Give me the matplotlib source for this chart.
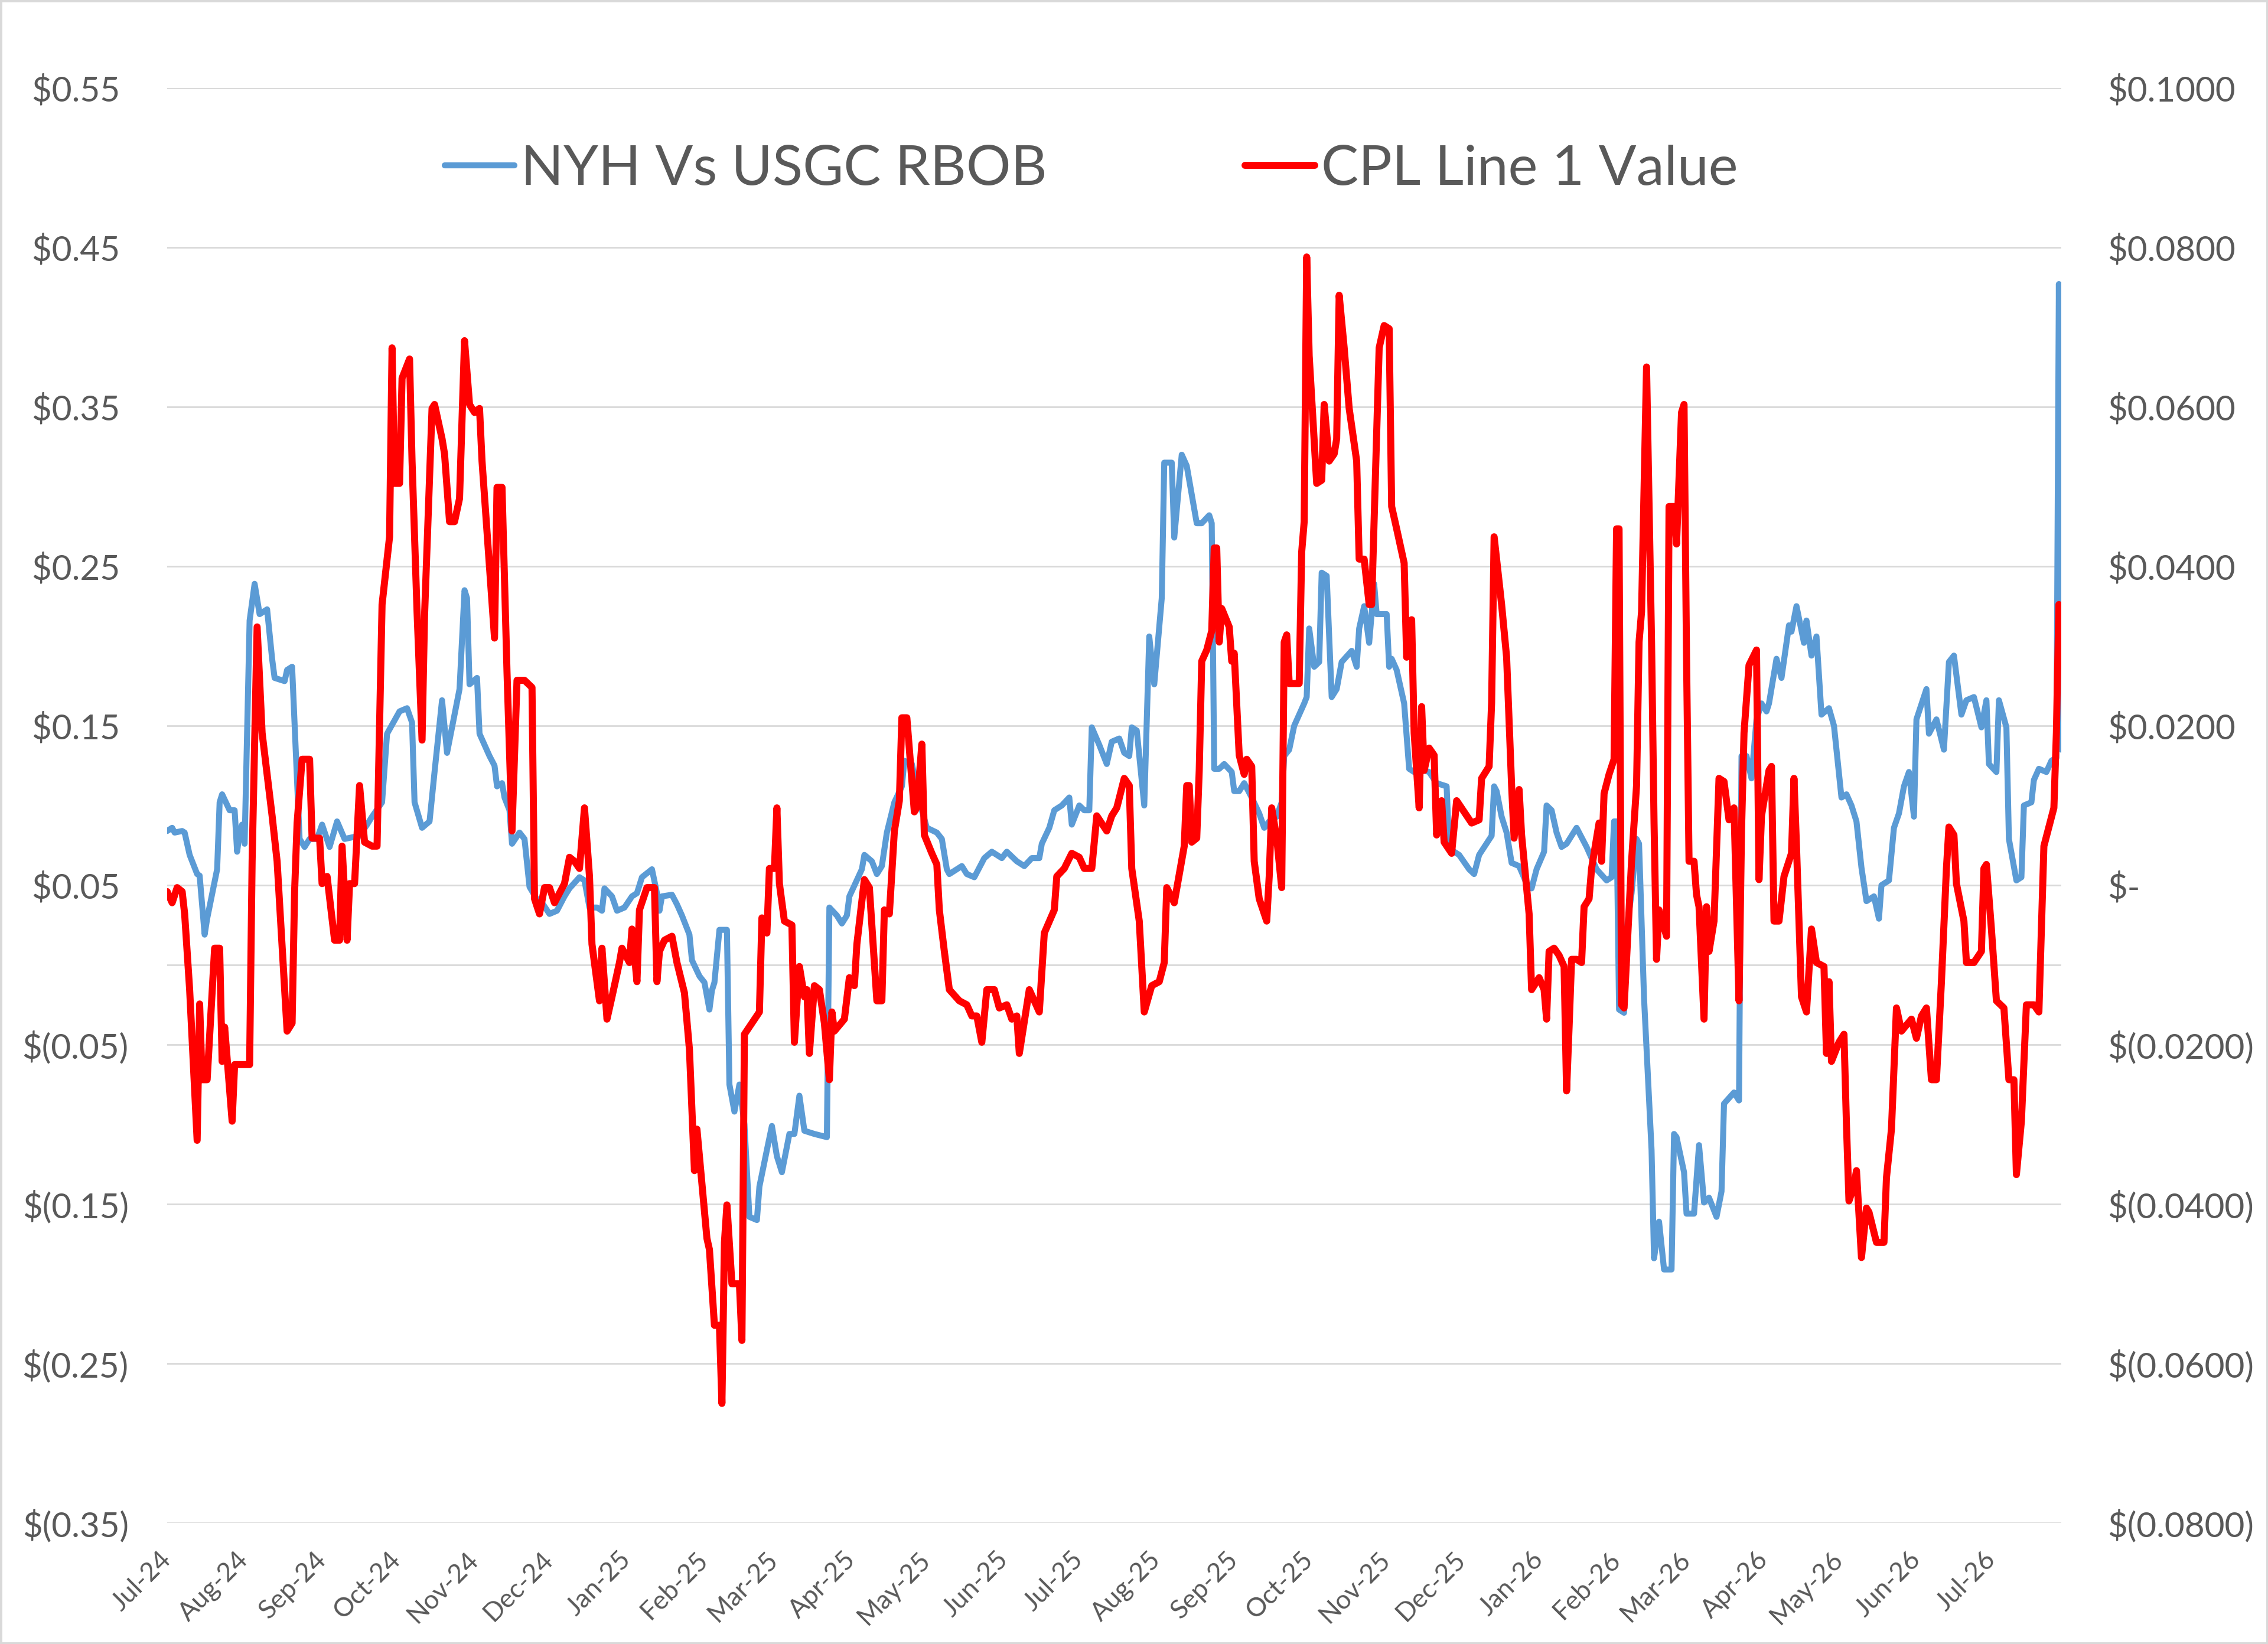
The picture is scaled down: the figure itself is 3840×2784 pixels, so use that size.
import pandas as pd
import matplotlib
matplotlib.use('Agg')
import matplotlib.pyplot as plt
import matplotlib.dates as mdates
from matplotlib.patches import Rectangle
from matplotlib.ticker import FuncFormatter

plt.rcParams['font.family'] = ['Lato', 'DejaVu Sans']

START = pd.Timestamp('2024-07-01')

# NYH Vs USGC RBOB spread ($/gal, left axis) - day offsets from 1-Jul-24
blue_day = [0, 2, 3, 6, 7, 9, 12, 13, 15, 16, 20, 21, 22, 25, 27, 28, 29, 30, 31, 33,
            35, 37, 40, 42, 43, 47, 48, 50, 53, 55, 57, 60, 62, 65, 68, 71, 74, 77, 80, 82,
            86, 88, 93, 96, 98, 99, 102, 105, 107, 110, 112, 115, 117, 119, 120, 121, 124, 125, 127, 129,
            131, 132, 134, 135, 137, 138, 141, 143, 145, 148, 150, 153, 156, 159, 161, 165, 167, 169, 172, 174,
            175, 178, 180, 183, 186, 188, 190, 194, 196, 197, 198, 202, 204, 206, 209, 210, 213, 215, 217, 218,
            219, 221, 224, 225, 227, 229, 231, 233, 236, 237, 240, 242, 244, 246, 249, 251, 253, 255, 259, 264,
            265, 268, 270, 272, 273, 278, 279, 282, 284, 286, 288, 291, 294, 295, 298, 302, 304, 308, 310, 312,
            313, 316, 318, 320, 323, 327, 330, 334, 336, 340, 343, 346, 349, 350, 353, 355, 358, 361, 362, 365,
            367, 369, 370, 373, 376, 378, 381, 383, 385, 386, 388, 391, 393, 395, 398, 399, 402, 403, 406, 408,
            412, 414, 417, 418, 419, 421, 423, 426, 427, 429, 431, 434, 437, 439, 441, 444, 446, 447, 449, 451,
            455, 456, 457, 459, 461, 462, 464, 466, 468, 470, 474, 476, 477, 479, 481, 483, 484, 488, 489, 490,
            492, 495, 497, 499, 501, 505, 508, 512, 513, 515, 517, 521, 523, 525, 530, 531, 532, 534, 536, 538,
            541, 544, 546, 548, 551, 552, 554, 556, 558, 560, 564, 565, 568, 572, 576, 578, 579, 580, 581, 583,
            584, 586, 588, 589, 591, 594, 595, 597, 599, 602, 603, 604, 607, 608, 611, 613, 615, 617, 620, 622,
            623, 627, 629, 630, 632, 634, 636, 638, 640, 641, 644, 646, 649, 650, 652, 655, 656, 658, 660, 662,
            665, 667, 668, 670, 672, 674, 676, 678, 680, 683, 685, 686, 689, 691, 693, 695, 697, 699, 700, 704,
            705, 708, 711, 713, 715, 718, 720, 723, 726, 728, 729, 732, 733, 736, 737, 740, 742, 743, 746, 747,
            749, 752, 754, 756, 757, 758]
blue_val = [0.084, 0.086, 0.083, 0.084, 0.083, 0.069, 0.057, 0.056, 0.019, 0.029, 0.060, 0.102, 0.107, 0.097, 0.097, 0.071, 0.083, 0.088, 0.076, 0.216,
            0.239, 0.220, 0.223, 0.192, 0.180, 0.178, 0.185, 0.187, 0.079, 0.074, 0.079, 0.079, 0.088, 0.074, 0.090, 0.079, 0.080, 0.081, 0.088, 0.093,
            0.102, 0.145, 0.159, 0.161, 0.152, 0.102, 0.086, 0.090, 0.121, 0.166, 0.133, 0.157, 0.173, 0.235, 0.230, 0.176, 0.180, 0.145, 0.138, 0.131,
            0.125, 0.112, 0.114, 0.105, 0.097, 0.076, 0.083, 0.079, 0.049, 0.041, 0.039, 0.032, 0.034, 0.043, 0.048, 0.055, 0.053, 0.036, 0.036, 0.034,
            0.048, 0.043, 0.034, 0.036, 0.043, 0.045, 0.055, 0.060, 0.045, 0.034, 0.043, 0.044, 0.038, 0.031, 0.019, 0.003, -0.007, -0.011, -0.028, -0.016,
            -0.011, 0.022, 0.022, -0.075, -0.092, -0.075, -0.100, -0.158, -0.160, -0.139, -0.116, -0.101, -0.120, -0.130, -0.106, -0.106, -0.082, -0.104, -0.106, -0.108,
            0.036, 0.031, 0.026, 0.031, 0.043, 0.060, 0.069, 0.065, 0.057, 0.062, 0.083, 0.102, 0.112, 0.128, 0.126, 0.097, 0.086, 0.083, 0.079, 0.060,
            0.057, 0.060, 0.062, 0.057, 0.055, 0.067, 0.071, 0.067, 0.071, 0.065, 0.062, 0.067, 0.067, 0.076, 0.086, 0.097, 0.100, 0.105, 0.088, 0.100,
            0.097, 0.097, 0.149, 0.138, 0.126, 0.140, 0.142, 0.133, 0.131, 0.149, 0.147, 0.100, 0.206, 0.176, 0.230, 0.315, 0.315, 0.268, 0.320, 0.313,
            0.277, 0.277, 0.282, 0.277, 0.123, 0.123, 0.126, 0.121, 0.109, 0.109, 0.114, 0.105, 0.095, 0.086, 0.090, 0.093, 0.102, 0.131, 0.135, 0.150,
            0.164, 0.168, 0.211, 0.187, 0.190, 0.246, 0.244, 0.168, 0.173, 0.190, 0.197, 0.187, 0.211, 0.225, 0.202, 0.239, 0.220, 0.220, 0.187, 0.192,
            0.185, 0.164, 0.123, 0.121, 0.123, 0.121, 0.114, 0.112, 0.074, 0.071, 0.069, 0.060, 0.057, 0.069, 0.081, 0.112, 0.109, 0.093, 0.083, 0.064,
            0.062, 0.051, 0.048, 0.060, 0.071, 0.100, 0.097, 0.083, 0.074, 0.076, 0.086, 0.083, 0.074, 0.060, 0.053, 0.055, 0.090, 0.090, -0.028, -0.030,
            0.022, 0.045, 0.079, 0.076, -0.021, -0.116, -0.184, -0.161, -0.191, -0.191, -0.106, -0.108, -0.130, -0.156, -0.156, -0.113, -0.149, -0.146, -0.158, -0.142,
            -0.087, -0.080, -0.085, 0.131, 0.131, 0.117, 0.154, 0.164, 0.159, 0.164, 0.192, 0.180, 0.213, 0.209, 0.225, 0.202, 0.216, 0.194, 0.206, 0.157,
            0.161, 0.150, 0.135, 0.105, 0.107, 0.100, 0.090, 0.061, 0.040, 0.043, 0.029, 0.050, 0.053, 0.086, 0.095, 0.112, 0.121, 0.093, 0.154, 0.173,
            0.145, 0.154, 0.135, 0.190, 0.194, 0.157, 0.166, 0.168, 0.149, 0.166, 0.126, 0.121, 0.166, 0.149, 0.079, 0.053, 0.055, 0.100, 0.102, 0.116,
            0.123, 0.121, 0.128, 0.130, 0.427, 0.135]

# CPL Line 1 Value ($/gal, right axis)
red_day = [0, 2, 4, 6, 7, 9, 12, 13, 14, 16, 19, 21, 22, 23, 26, 27, 33, 34, 36, 38,
           42, 44, 48, 50, 51, 52, 54, 57, 58, 61, 62, 64, 67, 69, 70, 72, 73, 75, 77, 79,
           82, 84, 86, 89, 90, 91, 93, 94, 97, 98, 100, 102, 103, 106, 107, 110, 111, 113, 115, 117,
           119, 121, 123, 125, 126, 131, 132, 134, 136, 138, 140, 143, 146, 147, 149, 151, 153, 155, 159, 161,
           163, 165, 167, 169, 170, 173, 174, 176, 178, 181, 182, 185, 186, 188, 189, 192, 195, 196, 197, 199,
           202, 204, 207, 209, 211, 212, 216, 217, 219, 221, 222, 223, 224, 226, 229, 230, 231, 234, 237, 238,
           240, 241, 243, 244, 245, 247, 250, 251, 253, 255, 256, 257, 259, 261, 263, 265, 266, 267, 271, 273,
           275, 276, 279, 281, 284, 286, 287, 289, 291, 293, 294, 296, 299, 300, 302, 303, 306, 308, 309, 311,
           313, 317, 320, 322, 324, 326, 328, 331, 333, 336, 338, 340, 341, 345, 349, 351, 355, 356, 359, 362,
           365, 367, 370, 372, 376, 378, 380, 383, 385, 386, 389, 391, 394, 397, 399, 400, 403, 407, 408, 409,
           410, 412, 413, 414, 416, 418, 419, 420, 421, 422, 425, 426, 427, 429, 431, 432, 434, 435, 437, 440,
           441, 442, 444, 446, 447, 448, 449, 453, 454, 455, 456, 457, 460, 462, 463, 465, 467, 468, 469, 471,
           473, 476, 477, 479, 481, 482, 484, 485, 487, 489, 490, 492, 495, 496, 498, 499, 501, 502, 503, 505,
           507, 508, 510, 511, 514, 516, 519, 522, 525, 526, 529, 530, 531, 534, 536, 538, 539, 541, 542, 545,
           546, 549, 551, 552, 553, 555, 557, 559, 560, 561, 562, 564, 566, 567, 569, 570, 573, 574, 575, 577,
           579, 580, 581, 582, 583, 586, 588, 589, 590, 592, 594, 595, 596, 597, 600, 601, 603, 604, 606, 607,
           608, 609, 611, 612, 613, 615, 616, 617, 619, 621, 623, 625, 627, 629, 630, 631, 633, 636, 637, 638,
           641, 642, 643, 645, 647, 650, 651, 652, 654, 656, 658, 660, 663, 664, 665, 666, 669, 671, 672, 673,
           675, 676, 678, 680, 681, 684, 687, 688, 690, 692, 694, 698, 700, 702, 704, 706, 708, 710, 712, 713,
           715, 716, 719, 720, 723, 726, 727, 728, 730, 732, 735, 737, 739, 740, 742, 744, 747, 749, 751, 755,
           756, 757, 758]
red_val = [-0.0008, -0.0022, -0.0003, -0.0008, -0.0036, -0.0131, -0.0320, -0.0149, -0.0244, -0.0244, -0.0079, -0.0079, -0.0221, -0.0178, -0.0296, -0.0225, -0.0225, 0.0030, 0.0324, 0.0191,
           0.0087, 0.0030, -0.0183, -0.0173, -0.0008, 0.0078, 0.0158, 0.0158, 0.0059, 0.0059, 0.0002, 0.0011, -0.0069, -0.0069, 0.0049, -0.0069, 0.0002, 0.0002, 0.0125, 0.0054,
           0.0049, 0.0049, 0.0352, 0.0437, 0.0674, 0.0504, 0.0504, 0.0636, 0.0660, 0.0532, 0.0343, 0.0182, 0.0338, 0.0598, 0.0603, 0.0560, 0.0541, 0.0456, 0.0456, 0.0485,
           0.0683, 0.0603, 0.0593, 0.0598, 0.0532, 0.0310, 0.0499, 0.0499, 0.0267, 0.0068, 0.0257, 0.0257, 0.0248, -0.0017, -0.0036, -0.0003, -0.0003, -0.0022, 0.0002, 0.0035,
           0.0030, 0.0021, 0.0097, 0.0011, -0.0074, -0.0145, -0.0079, -0.0168, -0.0140, -0.0097, -0.0079, -0.0097, -0.0055, -0.0121, -0.0031, -0.0003, -0.0003, -0.0121, -0.0083, -0.0069,
           -0.0064, -0.0097, -0.0135, -0.0206, -0.0358, -0.0306, -0.0443, -0.0457, -0.0552, -0.0552, -0.0650, -0.0448, -0.0401, -0.0500, -0.0500, -0.0571, -0.0187, -0.0173, -0.0159, -0.0041,
           -0.0060, 0.0021, 0.0021, 0.0097, 0.0002, -0.0045, -0.0050, -0.0197, -0.0102, -0.0140, -0.0131, -0.0211, -0.0126, -0.0131, -0.0173, -0.0244, -0.0159, -0.0183, -0.0168, -0.0116,
           -0.0126, -0.0074, 0.0007, -0.0003, -0.0145, -0.0145, -0.0031, -0.0036, 0.0068, 0.0106, 0.0210, 0.0210, 0.0092, 0.0097, 0.0177, 0.0063, 0.0040, 0.0026, -0.0031, -0.0083,
           -0.0131, -0.0145, -0.0150, -0.0164, -0.0164, -0.0197, -0.0131, -0.0131, -0.0154, -0.0150, -0.0168, -0.0164, -0.0211, -0.0131, -0.0159, -0.0060, -0.0031, 0.0011, 0.0021, 0.0040,
           0.0035, 0.0021, 0.0021, 0.0087, 0.0068, 0.0087, 0.0097, 0.0134, 0.0125, 0.0021, -0.0045, -0.0159, -0.0126, -0.0121, -0.0097, -0.0003, -0.0022, 0.0049, 0.0125, 0.0125,
           0.0054, 0.0059, 0.0144, 0.0281, 0.0295, 0.0319, 0.0423, 0.0423, 0.0305, 0.0347, 0.0324, 0.0281, 0.0291, 0.0163, 0.0139, 0.0158, 0.0149, 0.0030, -0.0017, -0.0045,
           0.0011, 0.0097, 0.0059, -0.0003, 0.0305, 0.0314, 0.0253, 0.0253, 0.0418, 0.0456, 0.0788, 0.0664, 0.0504, 0.0508, 0.0603, 0.0532, 0.0541, 0.0560, 0.0740, 0.0674,
           0.0598, 0.0532, 0.0409, 0.0409, 0.0352, 0.0352, 0.0565, 0.0674, 0.0702, 0.0698, 0.0475, 0.0447, 0.0404, 0.0286, 0.0333, 0.0191, 0.0097, 0.0224, 0.0144, 0.0172,
           0.0163, 0.0063, 0.0106, 0.0054, 0.0040, 0.0106, 0.0092, 0.0078, 0.0082, 0.0134, 0.0149, 0.0229, 0.0437, 0.0352, 0.0286, 0.0125, 0.0059, 0.0120, 0.0063, -0.0036,
           -0.0131, -0.0116, -0.0131, -0.0168, -0.0083, -0.0079, -0.0088, -0.0102, -0.0258, -0.0178, -0.0093, -0.0093, -0.0097, -0.0027, -0.0017, 0.0021, 0.0078, 0.0030, 0.0115, 0.0139,
           0.0158, 0.0447, 0.0447, -0.0150, -0.0154, 0.0030, 0.0125, 0.0305, 0.0343, 0.0650, 0.0305, 0.0078, -0.0093, -0.0031, -0.0064, 0.0475, 0.0475, 0.0428, 0.0593, 0.0603,
           0.0286, 0.0030, 0.0030, -0.0012, -0.0027, -0.0168, -0.0027, -0.0083, -0.0045, 0.0134, 0.0130, 0.0082, 0.0097, -0.0145, 0.0068, 0.0191, 0.0276, 0.0295, 0.0007, 0.0087,
           0.0144, 0.0149, -0.0045, -0.0045, 0.0011, 0.0040, 0.0134, 0.0049, -0.0140, -0.0159, -0.0055, -0.0097, -0.0102, -0.0211, -0.0121, -0.0221, -0.0197, -0.0187, -0.0301, -0.0396,
           -0.0377, -0.0358, -0.0467, -0.0405, -0.0410, -0.0448, -0.0448, -0.0367, -0.0306, -0.0154, -0.0183, -0.0168, -0.0192, -0.0164, -0.0154, -0.0244, -0.0244, -0.0121, 0.0021, 0.0073,
           0.0063, 0.0002, -0.0045, -0.0097, -0.0097, -0.0083, 0.0021, 0.0026, -0.0055, -0.0145, -0.0154, -0.0244, -0.0244, -0.0363, -0.0296, -0.0150, -0.0150, -0.0159, 0.0049, 0.0097,
           0.0191, 0.0352, 0.0305]

left_ticks = [0.55, 0.45, 0.35, 0.25, 0.15, 0.05, -0.05, -0.15, -0.25, -0.35]
right_ticks = [0.10, 0.08, 0.06, 0.04, 0.02, 0.0, -0.02, -0.04, -0.06, -0.08]

blue_x = START + pd.to_timedelta(blue_day, unit='D')
red_x = START + pd.to_timedelta(red_day, unit='D')

TXT = '#595959'
GRID = '#d9d9d9'


def left_fmt(v, pos):
    if v < 0:
        return '$(%.2f)' % abs(v)
    return '$%.2f ' % v


def right_fmt(v, pos):
    if abs(v) < 1e-9:
        return '$-'
    if v < 0:
        return '$(%.4f)' % abs(v)
    return '$%.4f' % v


fig = plt.figure(figsize=(38.4, 27.84), dpi=100)
ax = fig.add_axes([0.0737, 0.0736, 0.8352, 0.8729])
ax2 = ax.twinx()

for a in (ax, ax2):
    for s in a.spines.values():
        s.set_visible(False)
    a.tick_params(length=0, colors=TXT, labelsize=42)

# gridlines and zero axis line
ax.set_yticks(left_ticks)
ax.grid(axis='y', color=GRID, linewidth=2.0)
ax.axhline(0, color=GRID, linewidth=2.0)
ax.set_axisbelow(True)

l1, = ax.plot(blue_x, blue_val, color='#5B9BD5', linewidth=7.3,
              solid_joinstyle='round', solid_capstyle='round', label='NYH Vs USGC RBOB')
l2, = ax2.plot(red_x, red_val, color='#FF0000', linewidth=8.6,
               solid_joinstyle='round', solid_capstyle='round', label='CPL Line 1 Value')

ax.set_ylim(-0.35, 0.55)
ax2.set_ylim(-0.08, 0.10)
ax2.set_yticks(right_ticks)
ax.yaxis.set_major_formatter(FuncFormatter(left_fmt))
ax2.yaxis.set_major_formatter(FuncFormatter(right_fmt))
ax.tick_params(axis='y', pad=47)
ax2.tick_params(axis='y', pad=56)

ax.set_xlim(START, START + pd.Timedelta(days=758))
ax.xaxis.set_major_locator(mdates.MonthLocator())
ax.xaxis.set_major_formatter(mdates.DateFormatter('%b-%y'))
ax.tick_params(axis='x', labelsize=32, pad=40)
plt.setp(ax.get_xticklabels(), rotation=45, ha='right', va='center',
         rotation_mode='anchor')

fig.legend(handles=[l1, l2], loc='center left', bbox_to_anchor=(0.196, 0.897),
           frameon=False, ncol=2, fontsize=68, handlelength=1.25, handletextpad=0.12,
           columnspacing=3.55, borderpad=0, borderaxespad=0, labelcolor=TXT)

fig.patches.append(Rectangle((0, 0), 1, 1, transform=fig.transFigure, fill=False,
                             edgecolor=GRID, linewidth=5))

fig.savefig('out.png', dpi=100)
